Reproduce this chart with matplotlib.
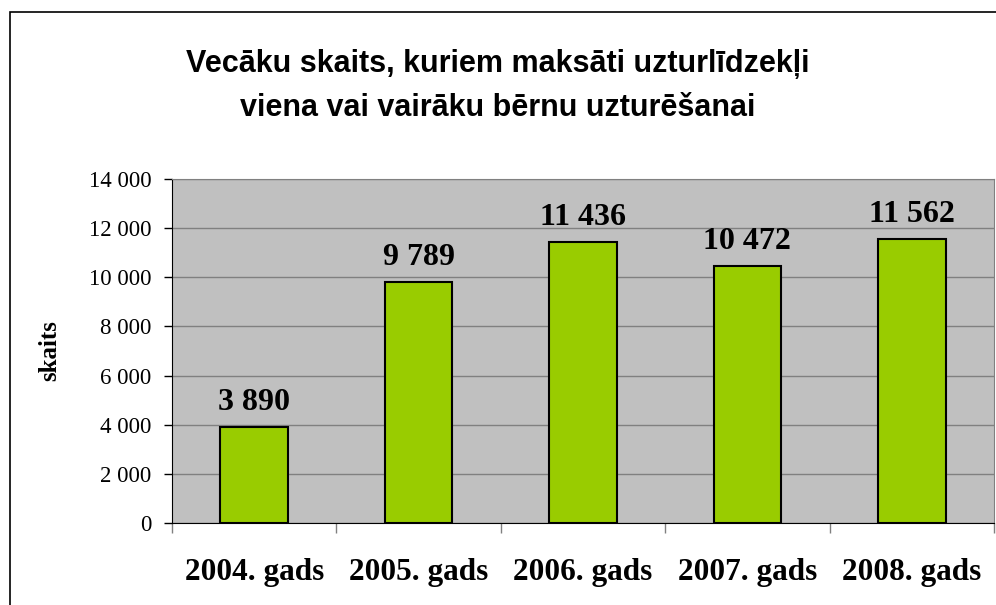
import matplotlib.pyplot as plt
from matplotlib.patches import Rectangle
from matplotlib.ticker import FuncFormatter

# data
categories = ["2004. gads", "2005. gads", "2006. gads", "2007. gads", "2008. gads"]
values = [3890, 9789, 11436, 10472, 11562]
y_ticks = [0, 2000, 4000, 6000, 8000, 10000, 12000, 14000]
title = "Vecāku skaits, kuriem maksāti uzturlīdzekļi\nviena vai vairāku bērnu uzturēšanai"
y_label = "skaits"


def fmt_space(v, pos=None):
    return f"{int(v):,}".replace(",", " ")


fig = plt.figure(figsize=(9.96, 6.05), dpi=100)
W, H = 996, 605

# outer chart frame (left/top visible, rest clipped)
fig.patches.append(Rectangle((10 / W, -0.1), 1.2, (H - 12) / H + 0.1,
                             transform=fig.transFigure, fill=False,
                             edgecolor="black", linewidth=1.2))

ax = fig.add_axes([172 / W, (H - 523) / H, (994 - 172) / W, (523 - 179) / H])
ax.set_facecolor("#c0c0c0")

x = list(range(len(categories)))
ax.bar(x, values, width=0.41, color="#99cc00", edgecolor="black",
       linewidth=1.5, zorder=3)

for xi, v in zip(x, values):
    ax.annotate(fmt_space(v), (xi, v), xytext=(0, 17),
                textcoords="offset pixels", ha="center", va="baseline",
                fontsize=23, fontweight="bold", family="Liberation Serif")

ax.set_xlim(-0.5, len(categories) - 0.5)
ax.set_ylim(0, 14000)
ax.set_yticks(y_ticks)
ax.yaxis.set_major_formatter(FuncFormatter(fmt_space))
ax.grid(axis="y", color="#808080", linewidth=1, zorder=1)
ax.set_axisbelow(True)

# category ticks at boundaries
ax.set_xticks([i + 0.5 for i in range(-1, len(categories))])
ax.set_xticklabels([])
ax.set_xticks(x, minor=True)
ax.set_xticklabels(categories, minor=True, fontsize=22.5, fontweight="bold",
                   family="Liberation Serif")
ax.tick_params(axis="x", which="minor", length=0, pad=25)
ax.tick_params(axis="x", which="major", length=7, width=1, color="#808080")
ax.tick_params(axis="y", length=6, width=1, labelsize=16.5, pad=9)
for lbl in ax.get_yticklabels():
    lbl.set_family("Liberation Serif")

ax.spines["left"].set_color("black")
ax.spines["bottom"].set_color("black")
ax.spines["top"].set_color("#808080")
ax.spines["right"].set_color("#808080")

ax.set_ylabel(y_label, fontsize=18, fontweight="bold",
              family="Liberation Serif", labelpad=20)

fig.text(0.5, (H - 86) / H, title, ha="center", va="center", fontsize=22,
         fontweight="bold", family="Liberation Sans", linespacing=1.6)

fig.savefig("out.png", dpi=100)
